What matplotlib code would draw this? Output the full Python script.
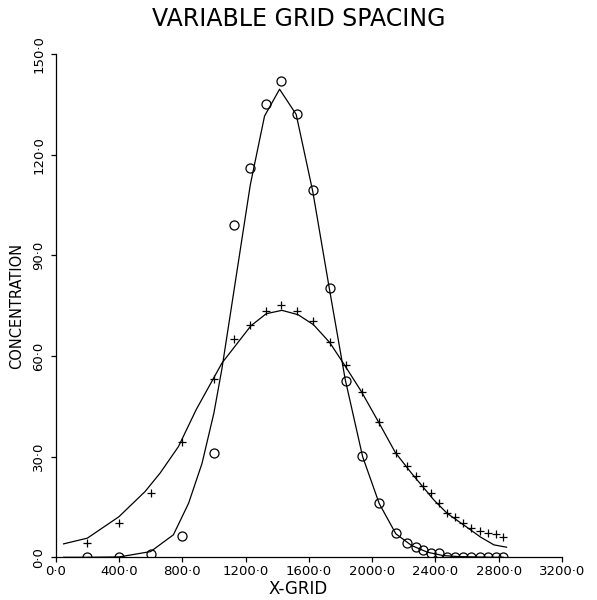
import matplotlib
matplotlib.use('Agg')
import matplotlib.pyplot as plt

# grid points shared by the two numerical solutions
x_grid = [200, 400, 600, 800, 1000, 1125, 1230, 1327, 1425, 1525, 1628, 1732,
          1833, 1938, 2045, 2150, 2223, 2276, 2320, 2372, 2423, 2476, 2524,
          2576, 2628, 2680, 2732, 2782, 2828]
circle_y = [0.2, 0.2, 1.0, 6.2, 31.2, 99.0, 116.0, 135.0, 142.0, 132.0, 109.4,
            80.3, 52.4, 30.3, 16.1, 7.2, 4.2, 3.0, 2.2, 1.2, 1.4, 0.2, 0.1,
            0.1, 0.1, 0.1, 0.1, 0.1, 0.1]
plus_y = [4.2, 10.1, 19.1, 34.5, 53.2, 65.2, 69.2, 73.5, 75.2, 73.3, 70.5,
          64.1, 57.3, 49.4, 40.2, 31.2, 27.3, 24.3, 21.3, 19.1, 16.3, 13.1,
          12.1, 10.1, 8.7, 7.9, 7.2, 6.9, 6.1]

# solid curves
line1_x = [50, 200, 400, 600, 744, 840, 925, 1000, 1050, 1230, 1320, 1415,
           1520, 1625, 1730, 1830, 1940, 2045, 2150, 2250, 2350, 2450, 2550,
           2650, 2750, 2830]
line1_y = [0.0, 0.0, 0.1, 1.7, 6.7, 16.1, 28.0, 43.0, 56.0, 111.0, 131.5,
           139.5, 132.0, 109.0, 80.0, 53.0, 30.0, 16.0, 7.0, 3.5, 1.5, 0.5,
           0.2, 0.1, 0.0, 0.0]
line2_x = [50, 200, 400, 565, 660, 776, 888, 1051, 1234, 1331, 1430, 1532,
           1630, 1732, 1827, 1932, 2042, 2147, 2250, 2390, 2474, 2580, 2686,
           2770, 2850]
line2_y = [4.0, 5.7, 12.1, 19.6, 25.1, 33.0, 44.0, 57.9, 69.0, 72.6, 73.6,
           72.3, 69.3, 64.0, 57.2, 49.4, 40.2, 31.2, 25.0, 17.1, 13.1, 9.6,
           6.0, 3.7, 3.0]

xticks = [0, 400, 800, 1200, 1600, 2000, 2400, 2800, 3200]
yticks = [0, 30, 60, 90, 120, 150]

fig = plt.figure(figsize=(5.97, 6.0), dpi=100)
ax = fig.add_axes([0.0933, 0.0712, 0.848, 0.8388])

ax.plot(line1_x, line1_y, color='k', lw=0.9)
ax.plot(line2_x, line2_y, color='k', lw=0.9)
ax.plot(x_grid, circle_y, 'o', mfc='none', mec='k', ms=6.5, mew=0.9)
ax.plot(x_grid, plus_y, '+', color='k', ms=6, mew=0.9)

ax.set_xlim(0, 3200)
ax.set_ylim(0, 150)
ax.spines['top'].set_visible(False)
ax.spines['right'].set_visible(False)
for s in ['left', 'bottom']:
    ax.spines[s].set_linewidth(0.9)
ax.set_xticks(xticks)
ax.set_xticklabels(['%d\u00b70' % v for v in xticks], fontsize=9.5)
ax.set_yticks(yticks)
ax.set_yticklabels(['%d\u00b70' % v for v in yticks], fontsize=9.5,
                   rotation=90, va='center')
ax.tick_params(direction='out', length=3.5, width=0.9, pad=2)
ax.tick_params(axis='y', pad=4)
for lab in ax.get_xticklabels() + ax.get_yticklabels():
    lab.set_clip_on(False)

ax.set_ylabel('CONCENTRATION', fontsize=10.5, labelpad=6)
fig.text(0.5, 0.018, 'X-GRID', ha='center', va='center', fontsize=12)
fig.text(0.5, 0.968, 'VARIABLE GRID SPACING', ha='center', va='center',
         fontsize=17)

fig.savefig('out.png', dpi=100)
